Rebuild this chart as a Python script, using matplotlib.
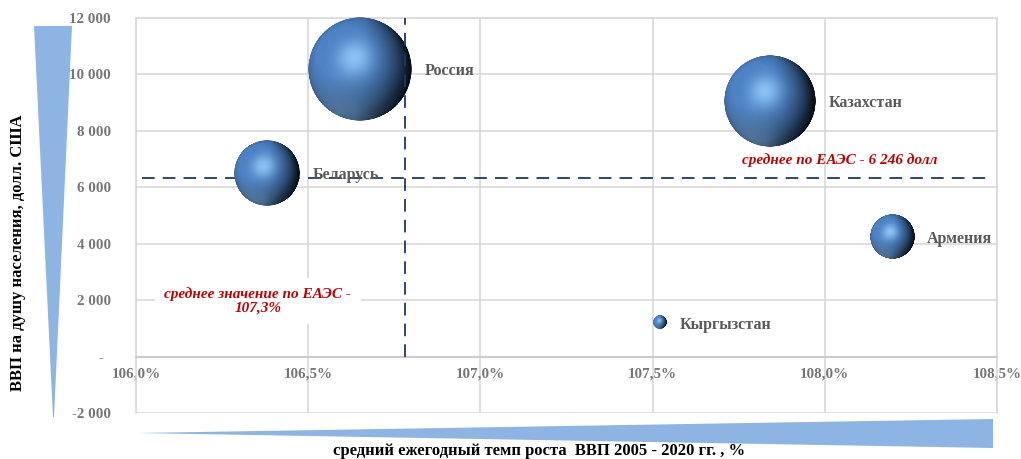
import matplotlib
matplotlib.use('Agg')
import matplotlib.pyplot as plt
import numpy as np
from matplotlib.patches import Polygon
from matplotlib.offsetbox import OffsetImage, AnnotationBbox
from matplotlib.ticker import FuncFormatter, FixedLocator

# ---- data ----
countries = ['Беларусь', 'Россия', 'Казахстан', 'Армения', 'Кыргызстан']
growth = [106.38, 106.65, 107.84, 108.195, 107.52]          # %
gdp_pc = [6500, 10200, 9050, 4240, 1200]                   # USD
bubble_size = [40, 100, 78, 18, 1.6]
mean_growth = 106.78
mean_gdp = 6330
mean_growth_label = 'среднее значение по ЕАЭС -\n107,3%'
mean_gdp_label = 'среднее по ЕАЭС - 6 246 долл'
x_ticks = [106.0, 106.5, 107.0, 107.5, 108.0, 108.5]
y_ticks = [-2000, 0, 2000, 4000, 6000, 8000, 10000, 12000]
x_label = 'средний ежегодный темп роста  ВВП 2005 - 2020 гг. , %'
y_label = 'ВВП на душу населения, долл. США'

plt.rcParams['font.family'] = ['Liberation Serif', 'DejaVu Serif']

W, H = 1021, 459
fig = plt.figure(figsize=(W / 100, H / 100), dpi=100)
ax = fig.add_axes([136 / W, 1 - 413 / H, (997 - 136) / W, (413 - 17.7) / H])
ax.set_xlim(x_ticks[0], x_ticks[-1])
ax.set_ylim(y_ticks[0], y_ticks[-1])

grid_c = '#d9d9d9'
ax.xaxis.set_major_locator(FixedLocator(x_ticks))
ax.yaxis.set_major_locator(FixedLocator(y_ticks))
ax.grid(True, color=grid_c, lw=1.2, zorder=0)
ax.set_axisbelow(True)
for s in ['top', 'left', 'right']:
    ax.spines[s].set_color(grid_c)
    ax.spines[s].set_linewidth(1.2)
ax.spines['bottom'].set_position(('data', 0))
ax.spines['bottom'].set_color('#c8c8c8')
ax.spines['bottom'].set_linewidth(1.2)


def fmt_x(v, pos):
    return f'{v:.1f}%'.replace('.', ',')


def fmt_y(v, pos):
    if v == 0:
        return '-  '
    s = f'{abs(int(v)):,}'.replace(',', ' ')
    return ('-' if v < 0 else '') + s


ax.xaxis.set_major_formatter(FuncFormatter(fmt_x))
ax.yaxis.set_major_formatter(FuncFormatter(fmt_y))
ax.tick_params(axis='both', length=0, labelsize=10.8, labelcolor='#767676')
ax.tick_params(axis='x', pad=8)
ax.tick_params(axis='y', pad=18)
for lab in ax.get_xticklabels() + ax.get_yticklabels():
    lab.set_fontweight('bold')

# ---- mean lines ----
navy = '#1f3864'
ax.plot([mean_growth, mean_growth], [0, y_ticks[-1]], color=navy, lw=1.3,
        dashes=(7, 4.5), zorder=5, clip_on=False)
ax.axhline(mean_gdp, xmin=0.007, xmax=0.995, color=navy, lw=1.3,
           dashes=(7, 4.5), zorder=2)


# ---- bubbles (shaded spheres) ----
def sphere_image(n=260):
    yy, xx = np.mgrid[1:-1:n * 1j, -1:1:n * 1j]
    rr = xx ** 2 + yy ** 2
    z = np.sqrt(np.clip(1 - rr, 0, 1))
    L = np.array([-0.42, 0.38, 0.82]); L /= np.linalg.norm(L)
    diff = np.clip(xx * L[0] + yy * L[1] + z * L[2], 0, 1)
    Lh = np.array([-0.22, 0.42, 0.88]); Lh /= np.linalg.norm(Lh)
    Hv = Lh + np.array([0, 0, 1.0]); Hv /= np.linalg.norm(Hv)
    nh = np.clip(xx * Hv[0] + yy * Hv[1] + z * Hv[2], 0, 1)
    R = np.array([-0.30, -0.80, 0.35]); R /= np.linalg.norm(R)
    refl = np.clip(xx * R[0] + yy * R[1] + z * R[2], 0, 1)
    dark = np.array([0.03, 0.06, 0.10])
    base = np.array([0.29, 0.49, 0.74])
    light = np.array([0.60, 0.82, 1.00])
    shade = np.clip(0.40 + 0.75 * diff, 0, 1.05)
    col = dark[None, None, :] + (base - dark)[None, None, :] * shade[..., None]
    col += (np.array([0.42, 0.56, 0.70]) - col) * (0.55 * refl ** 4)[..., None]
    col += (light - col) * (0.8 * nh ** 16)[..., None]
    # darken the right limb
    limb = np.clip(xx * 0.9 - yy * 0.1, 0, 1) * (1 - z)
    col *= (1 - 0.75 * np.clip(limb * 1.6, 0, 1))[..., None]
    col = np.clip(col, 0, 1)
    alpha = np.clip((1 - np.sqrt(rr)) * n / 2, 0, 1)
    return np.dstack([col, alpha])


img_n = 260
sph = sphere_image(img_n)
max_diam_pt = 104 * 0.72
base_diams = [max_diam_pt * np.sqrt(v / max(bubble_size)) for v in bubble_size]
ax.scatter(growth, gdp_pc, s=[(0.94 * d) ** 2 for d in base_diams],
           color='#3f6ea8', linewidths=0, zorder=3)
for x, y, d in zip(growth, gdp_pc, base_diams):
    oi = OffsetImage(sph, zoom=d / img_n, interpolation='antialiased')
    ab = AnnotationBbox(oi, (x, y), frameon=False, pad=0, zorder=4)
    ax.add_artist(ab)

# ---- country labels ----
for name, x, y, d in zip(countries, growth, gdp_pc, base_diams):
    ax.annotate(name, (x, y), xytext=(d / 2 + 9.5, -1.5), textcoords='offset points',
                ha='left', va='center', fontsize=11.5, fontweight='bold',
                color='#595959', zorder=4.5)

# ---- mean annotations ----
red = '#c00000'
ax.text(108.044, 6960, mean_gdp_label, ha='center', va='center', fontsize=11,
        fontweight='bold', fontstyle='italic', color=red, zorder=6)
ax.text(106.354, 1980, mean_growth_label, ha='center', va='center', fontsize=11,
        fontweight='bold', fontstyle='italic', color=red, zorder=6,
        linespacing=1.1,
        bbox=dict(boxstyle='square,pad=0.6', fc='white', ec='none'))

# ---- axis titles and decorative wedges ----
wedge_c = '#8db4e2'


def px(x, y):
    return (x / W, 1 - y / H)


fig.patches.append(Polygon([px(34, 26), px(72, 26), px(54, 417), px(53, 417)],
                           closed=True, transform=fig.transFigure, fc=wedge_c,
                           ec='none', zorder=0))
fig.patches.append(Polygon([px(138, 433), px(993, 419), px(993, 448)],
                           closed=True, transform=fig.transFigure, fc=wedge_c,
                           ec='none', zorder=0))

fig.text(18.5 / W, 1 - 253 / H, y_label, rotation=90, ha='center', va='center',
         fontsize=12, fontweight='bold', color='black')
fig.text(539 / W, 1 - 451 / H, x_label, ha='center', va='center',
         fontsize=12, fontweight='bold', color='black')

fig.savefig('out.png', dpi=100)
